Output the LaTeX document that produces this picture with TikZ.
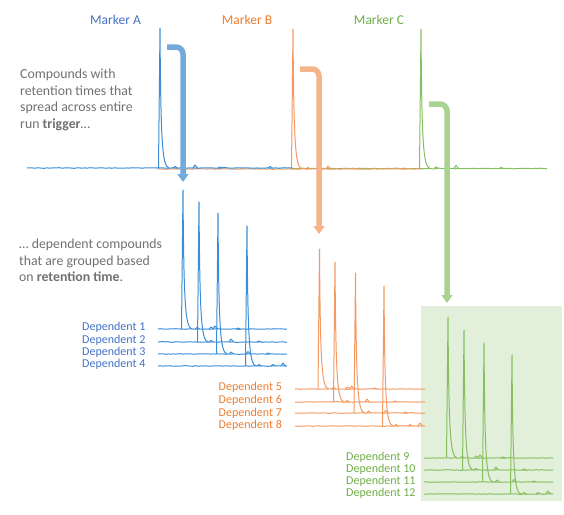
\documentclass[tikz,border=0pt]{standalone}
\usepackage{fontspec}
\setmainfont{Carlito}
\usetikzlibrary{arrows.meta, positioning, calc, decorations.pathmorphing}
\definecolor{mkblue}{HTML}{4472C4}
\definecolor{trblue}{HTML}{3A8DD6}
\definecolor{arblue}{HTML}{74A9DC}
\definecolor{mkorange}{HTML}{ED7D31}
\definecolor{trorange}{HTML}{F39A62}
\definecolor{arorange}{HTML}{F5B48A}
\definecolor{mkgreen}{HTML}{70AD47}
\definecolor{trgreen}{HTML}{86BF60}
\definecolor{argreen}{HTML}{AAD290}
\definecolor{boxgreen}{HTML}{E2EFDA}
\definecolor{txtgray}{HTML}{707070}
\tikzset{
  trace/.style={line width=1pt, line join=round},
  marker/.style={font=\fontsize{13.5}{16}\selectfont, inner sep=0pt},
  note/.style={
    font=\fontsize{13.8}{16.6}\selectfont, text=txtgray,
    align=left, anchor=north west, inner sep=0pt
  },
  dep/.style={font=\fontsize{12}{12}\selectfont, anchor=west, inner sep=0pt},
  flow/.style={line width=5.5pt, rounded corners=7pt,
    -{Triangle[length=8pt, width=11pt]}}
}
% one trace: [colour]{x from}{x to}{baseline}{peak x}{peak top}{bumps}
\newcommand{\chrom}[7][]{%
  \draw[trace, #1, decorate,
    decoration={random steps, segment length=2.5pt, amplitude=0.3pt}]
    (#2,#4) -- (#3,#4);
  \begin{scope}[shift={(#5,#4)}]
    \draw[trace, #1] (-1.5,0) -- (0,{#6-#4})
      .. controls (0.8,{(#6-#4)*0.2}) and (2,-1.5) .. (9,0);
    \foreach \o/\h in {#7}
      \draw[trace, #1] (\o-2,0) -- (\o,-\h) -- (\o+2.5,0);
  \end{scope}
}

\begin{document}
\begin{tikzpicture}[x=1pt, y=-1pt]
  \pgfmathsetseed{7}
  \useasboundingbox (0,0) rectangle (564,514);

  \fill[boxgreen] (420.5,306) rectangle (562,501);

  \node[marker, text=mkblue]   (markA) at (115.5,20) {Marker A};
  \node[marker, text=mkorange] (markB) at (247,20)   {Marker B};
  \node[marker, text=mkgreen]  (markC) at (379,20)   {Marker C};

  \node[note] (trig) at (20,69)
    {Compounds with\\retention times that\\spread across entire\\run \textbf{trigger}…};
  \node[note] (grp) at (19,239)
    {… dependent compounds\\that are grouped based\\on \textbf{retention time}.};

  \chrom[trgreen]{292}{547}{168.5}{421}{29}{15/1.5, 35/3, 80/1}
  \chrom[trorange]{157}{422}{169}{293}{29}{15/1.5, 35/3, 60/1, 110/1}
  \chrom[trblue]{27}{292}{168}{160}{28}{15/1.5, 35/3, 60/1, 110/1.5}

  \chrom[trblue]{158}{287}{329}{183}{190}{14/1.5, 28/2, 32/3, 55/1}
  \chrom[trblue]{158}{287}{342}{199}{202}{12/1.5, 32/3, 60/1}
  \chrom[trblue]{158}{287}{354}{218}{213}{13/2, 30/2.5, 50/1}
  \chrom[trblue]{158}{287}{366}{247}{226}{12/1.5, 26/1.5, 36/3}

  \chrom[trorange]{295}{425}{389}{319.5}{249}{14/1.5, 28/2, 32/3, 55/1}
  \chrom[trorange]{295}{425}{402}{335}{262}{12/1.5, 32/3, 60/1}
  \chrom[trorange]{295}{425}{413}{355.5}{273}{13/2, 30/2.5, 50/1}
  \chrom[trorange]{295}{425}{426}{384}{286}{12/1.5, 26/1.5, 36/3}

  \chrom[trgreen]{424}{553}{458}{448}{317}{14/1.5, 28/2, 32/3, 55/1}
  \chrom[trgreen]{424}{553}{470}{464}{330}{12/1.5, 32/3, 60/1}
  \chrom[trgreen]{424}{553}{482}{484}{343}{13/2, 30/2.5, 50/1}
  \chrom[trgreen]{424}{553}{494}{512}{355}{12/1.5, 26/1.5, 36/3}

  \node[dep, text=mkblue] (dep1) at (82,327) {Dependent 1};
  \node[dep, text=mkblue] (dep2) at (82,340) {Dependent 2};
  \node[dep, text=mkblue] (dep3) at (82,352) {Dependent 3};
  \node[dep, text=mkblue] (dep4) at (82,364) {Dependent 4};

  \node[dep, text=mkorange] (dep5) at (218.5,387) {Dependent 5};
  \node[dep, text=mkorange] (dep6) at (218.5,400) {Dependent 6};
  \node[dep, text=mkorange] (dep7) at (218.5,413) {Dependent 7};
  \node[dep, text=mkorange] (dep8) at (218.5,425) {Dependent 8};

  \node[dep, text=mkgreen] (dep9)  at (346,457) {Dependent 9};
  \node[dep, text=mkgreen] (dep10) at (346,469) {Dependent 10};
  \node[dep, text=mkgreen] (dep11) at (346,481) {Dependent 11};
  \node[dep, text=mkgreen] (dep12) at (346,493) {Dependent 12};

  \coordinate (fromA) at (167,47);
  \coordinate (toA)   at (183,182);
  \coordinate (fromB) at (300,69);
  \coordinate (toB)   at (319,234);
  \coordinate (fromC) at (429,104);
  \coordinate (toC)   at (447,303);

  \draw[flow, arblue]   (fromA) -| (toA);
  \draw[flow, arorange] (fromB) -| (toB);
  \draw[flow, argreen]  (fromC) -| (toC);

\end{tikzpicture}
\end{document}
